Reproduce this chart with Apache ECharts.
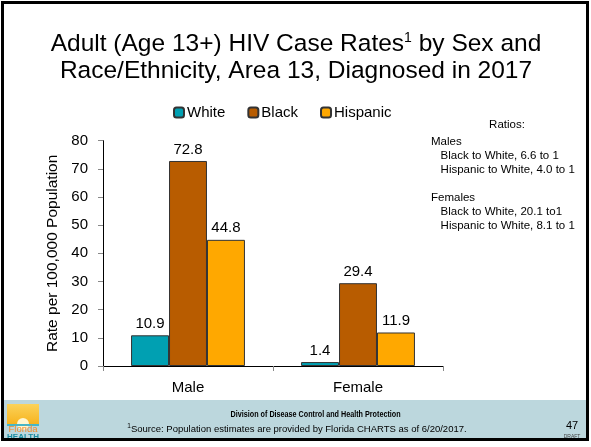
<!DOCTYPE html>
<html><head><meta charset="utf-8">
<script src="https://cdn.jsdelivr.net/npm/echarts@6/dist/echarts.min.js"></script>
<style>html,body{margin:0;padding:0;background:#fff}#c{width:591px;height:447px}</style>
</head><body><div id="c"></div>
<script>
const categories = ['Male', 'Female'];
const seriesNames = ['White', 'Black', 'Hispanic'];
const white = [10.9, 1.4];
const black = [72.8, 29.4];
const hispanic = [44.8, 11.9];
const yTicks = [0, 10, 20, 30, 40, 50, 60, 70, 80];
const colors = ['#00A0B2', '#B85C00', '#FFA800'];
const ratioLines = ['Males', '   Black to White, 6.6 to 1', '   Hispanic to White, 4.0 to 1', '', 'Females', '   Black to White, 20.1 to1', '   Hispanic to White, 8.1 to 1'];

const font = 'Liberation Sans, Arial, sans-serif';
const chart = echarts.init(document.getElementById('c'), null, {renderer: 'canvas'});
const values = [white, black, hispanic];
chart.setOption({
  animation: false,
  textStyle: {fontFamily: font},
  grid: {left: 103, right: 148, top: 140.7, bottom: 81, containLabel: false},
  legend: {
    top: 100, left: 168, itemWidth: 10, itemHeight: 10, itemGap: 22,
    textStyle: {fontSize: 15, color: '#000', fontFamily: font, padding: [0, 0, 0, -2]},
    data: seriesNames
  },
  xAxis: {
    type: 'category', data: categories,
    axisLine: {lineStyle: {color: '#000', width: 1}},
    axisTick: {show: true, length: 5, lineStyle: {color: '#888'}},
    axisLabel: {fontSize: 15, color: '#000', margin: 14, fontFamily: font}
  },
  yAxis: {
    type: 'value', min: yTicks[0], max: yTicks[yTicks.length - 1], interval: 10,
    name: 'Rate per 100,000 Population', nameLocation: 'middle', nameGap: 39,
    nameTextStyle: {fontSize: 15.5, color: '#000', fontFamily: font},
    axisLine: {show: true, lineStyle: {color: '#000', width: 1}},
    axisTick: {show: true, length: 5, lineStyle: {color: '#888'}},
    splitLine: {show: false},
    axisLabel: {fontSize: 15, color: '#000', margin: 15, fontFamily: font}
  },
  series: seriesNames.map((n, i) => ({
    name: n, type: 'bar', data: values[i],
    barGap: '0%', barCategoryGap: '33%',
    itemStyle: {color: colors[i], borderColor: '#333', borderWidth: 1},
    label: {show: true, position: 'top', fontSize: 15, color: '#000', distance: 4, fontFamily: font, formatter: p => p.value.toFixed(1)}
  })),
  graphic: [
    {type: 'rect', shape: {x: 4, y: 400, width: 583, height: 38}, style: {fill: '#BCD7DD'}, z: 0},
    {type: 'rect', shape: {x: 2.5, y: 2.5, width: 585, height: 437}, style: {fill: 'none', stroke: '#000', lineWidth: 3}, z: 10},
    {type: 'text', x: 296, y: 44, style: {
      text: 'Adult (Age 13+) HIV Case Rates{s|1} by Sex and', align: 'center', verticalAlign: 'middle',
      font: '24.5px ' + font, fill: '#000',
      rich: {s: {fontSize: 14, fontFamily: font, verticalAlign: 'top', padding: [0, 0, 9, 0], fill: '#000'}}
    }},
    {type: 'text', x: 296, y: 71, style: {
      text: 'Race/Ethnicity, Area 13, Diagnosed in 2017', align: 'center', verticalAlign: 'middle',
      font: '24.5px ' + font, fill: '#000'
    }},
    {type: 'text', x: 507, y: 125, style: {text: 'Ratios:', align: 'center', verticalAlign: 'middle', font: '11.5px ' + font, fill: '#000'}},
    {type: 'text', x: 431, y: 135, style: {text: ratioLines.join('\n'), align: 'left', verticalAlign: 'top', font: '11.5px ' + font, lineHeight: 14, fill: '#000'}},
    {type: 'text', x: 263, y: 415, scaleX: 0.8, originX: 263, originY: 415, style: {text: 'Division of Disease Control and Health Protection', align: 'center', verticalAlign: 'middle', font: 'bold 9px ' + font, fill: '#000'}},
    {type: 'text', x: 297, y: 429, style: {text: '{s|1}Source: Population estimates are provided by Florida CHARTS as of 6/20/2017.', align: 'center', verticalAlign: 'middle', font: '9.5px ' + font, fill: '#000', rich: {s: {fontSize: 6.5, fontFamily: font, verticalAlign: 'top', padding: [0, 0, 5, 0]}}}},
    {type: 'text', x: 572, y: 426, style: {text: '47', align: 'center', verticalAlign: 'middle', font: '11px ' + font, fill: '#000'}},
    {type: 'text', x: 572, y: 437, style: {text: 'DRAFT', align: 'center', verticalAlign: 'middle', font: '5px ' + font, fill: '#444'}},
    {type: 'rect', shape: {x: 7, y: 404, width: 32, height: 21}, style: {fill: new echarts.graphic.LinearGradient(0, 0, 0, 1, [{offset: 0, color: '#FBD35A'}, {offset: 1, color: '#F7B21C'}])}},
    {type: 'circle', shape: {cx: 23, cy: 424, r: 6}, style: {fill: '#FFF6D0'}},
    {type: 'rect', shape: {x: 7, y: 424, width: 32, height: 2}, style: {fill: '#45B7C9'}},
    {type: 'text', x: 23, y: 429.5, style: {text: 'Florida', align: 'center', verticalAlign: 'middle', font: '9.5px ' + font, fill: '#EE8A2E'}},
    {type: 'text', x: 23, y: 436.5, style: {text: 'HEALTH', align: 'center', verticalAlign: 'middle', font: 'bold 8px ' + font, fill: '#1A8BA0'}}
  ]
});
</script></body></html>
